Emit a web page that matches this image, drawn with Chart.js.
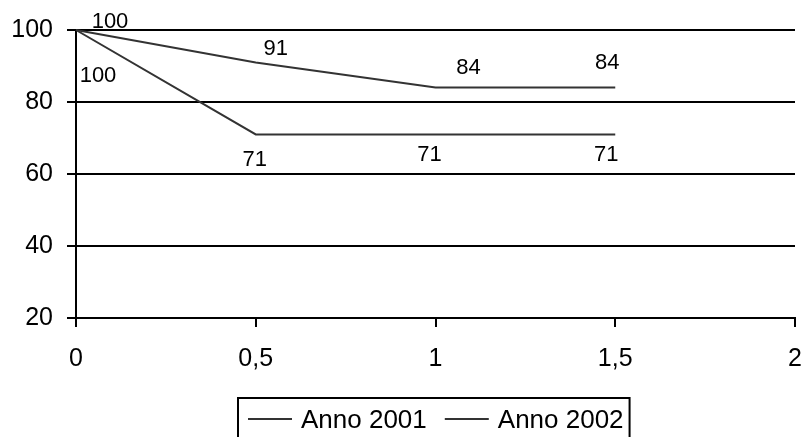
<!DOCTYPE html>
<html>
<head>
<meta charset="utf-8">
<script src="https://cdn.jsdelivr.net/npm/chart.js@4/dist/chart.umd.min.js"></script>
<style>
  html, body { margin: 0; padding: 0; background: #fff; }
  #wrap { width: 803px; height: 437px; position: relative; }
</style>
</head>
<body>
<div id="wrap"><canvas id="chart" width="803" height="437"></canvas></div>
<script>
// dati
const xValues = [0, 0.5, 1, 1.5];
const anno2001 = [100, 91, 84, 84];
const anno2002 = [100, 71, 71, 71];
const seriesLabels = ["Anno 2001", "Anno 2002"];

// spostamento etichette rispetto al punto (px)
const labelOffsets2001 = [[34, -8], [20, -13], [33, -20], [-8, -25]];
const labelOffsets2002 = [[22, 46], [-1, 26], [-6, 21], [-9, 21]];

const FONT = "'Liberation Sans', Arial, sans-serif";

const toPoints = (vals) => vals.map((v, i) => ({ x: xValues[i], y: v }));

// etichette dei valori
const valueLabels = {
  id: "valueLabels",
  afterDatasetsDraw(chart) {
    const { ctx, scales } = chart;
    const offs = [labelOffsets2001, labelOffsets2002];
    ctx.save();
    ctx.font = "22px " + FONT;
    ctx.fillStyle = "#000";
    ctx.textAlign = "center";
    ctx.textBaseline = "middle";
    chart.data.datasets.forEach((ds, d) => {
      ds.data.forEach((p, i) => {
        const x = scales.x.getPixelForValue(p.x) + offs[d][i][0];
        const y = scales.y.getPixelForValue(p.y) + offs[d][i][1];
        ctx.fillText(String(p.y), x, y);
      });
    });
    ctx.restore();
  },
};

// legenda con riquadro, sotto il grafico
const boxLegend = {
  id: "boxLegend",
  afterDraw(chart) {
    const { ctx, chartArea } = chart;
    const LINE = 44, GAP = 9, ITEM_GAP = 18, PAD_L = 10, PAD_R = 6;
    ctx.save();
    ctx.font = "26px " + FONT;
    const widths = chart.data.datasets.map((ds) => ctx.measureText(ds.label).width);
    const total = PAD_L + PAD_R + widths.reduce((a, w) => a + LINE + GAP + w, 0) + ITEM_GAP * (widths.length - 1);
    const left = Math.round((chartArea.left + chartArea.right) / 2 - total / 2) - 2;
    const top = 398;
    ctx.strokeStyle = "#000";
    ctx.lineWidth = 2;
    ctx.strokeRect(left, top, total, 80);
    let x = left + PAD_L;
    const yMid = 420;
    chart.data.datasets.forEach((ds, i) => {
      ctx.strokeStyle = ds.borderColor;
      ctx.lineWidth = 2;
      ctx.beginPath();
      ctx.moveTo(x, yMid - 1);
      ctx.lineTo(x + LINE, yMid - 1);
      ctx.stroke();
      x += LINE + GAP;
      ctx.fillStyle = "#000";
      ctx.textBaseline = "middle";
      ctx.textAlign = "left";
      ctx.fillText(ds.label, x, yMid + 1);
      x += widths[i] + ITEM_GAP;
    });
    ctx.restore();
  },
};

new Chart(document.getElementById("chart"), {
  type: "line",
  data: {
    datasets: [
      {
        label: seriesLabels[0],
        data: toPoints(anno2001),
        borderColor: "#333",
        borderWidth: 2,
        pointRadius: 0,
        tension: 0,
        clip: false,
      },
      {
        label: seriesLabels[1],
        data: toPoints(anno2002),
        borderColor: "#333",
        borderWidth: 2,
        pointRadius: 0,
        tension: 0,
        clip: false,
      },
    ],
  },
  options: {
    responsive: false,
    animation: false,
    layout: { padding: { top: 30, right: 0, left: 0, bottom: 0 } },
    plugins: {
      legend: { display: false },
      tooltip: { enabled: false },
    },
    scales: {
      x: {
        type: "linear",
        min: 0,
        max: 2,
        ticks: {
          stepSize: 0.5,
          color: "#000",
          font: { family: FONT, size: 25 },
          padding: 17,
          maxRotation: 0,
          callback: (v) => String(v).replace(".", ","),
        },
        grid: { drawOnChartArea: false, color: "#000", lineWidth: 2, tickLength: 9 },
        border: { color: "#000", width: 2 },
        afterFit: (s) => { s.height = 119; s.paddingRight = 8; },
      },
      y: {
        min: 20,
        max: 100,
        ticks: {
          stepSize: 20,
          color: "#000",
          font: { family: FONT, size: 25 },
          padding: 14,
        },
        grid: { color: "#000", lineWidth: 2, tickLength: 9 },
        border: { color: "#000", width: 2 },
        afterFit: (s) => { s.width = 76; },
      },
    },
  },
  plugins: [valueLabels, boxLegend],
});
</script>
</body>
</html>
